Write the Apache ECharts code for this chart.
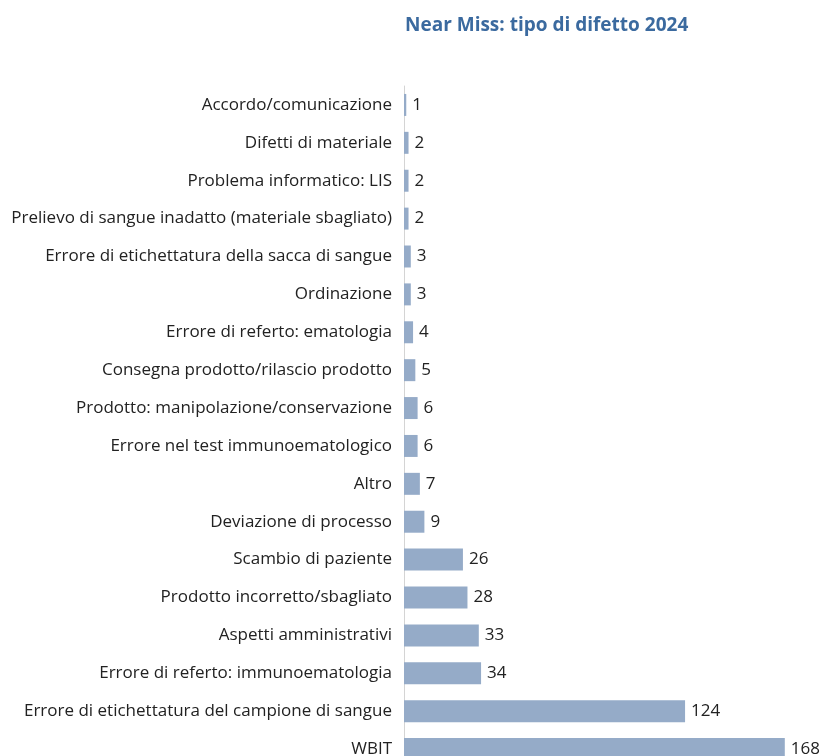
<!DOCTYPE html>
<html>
<head>
<meta charset="utf-8">
<script src="https://cdn.jsdelivr.net/npm/echarts@6/dist/echarts.min.js"></script>
<style>
  html, body { margin: 0; padding: 0; background: #ffffff; overflow: hidden; }
  #chart { width: 825px; height: 780px; }
</style>
</head>
<body>
<div id="chart"></div>
<script>
// Near miss events by defect type, 2024 (listed top to bottom)
const categories = [
  'Accordo/comunicazione',
  'Difetti di materiale',
  'Problema informatico: LIS',
  'Prelievo di sangue inadatto (materiale sbagliato)',
  'Errore di etichettatura della sacca di sangue',
  'Ordinazione',
  'Errore di referto: ematologia',
  'Consegna prodotto/rilascio prodotto',
  'Prodotto: manipolazione/conservazione',
  'Errore nel test immunoematologico',
  'Altro',
  'Deviazione di processo',
  'Scambio di paziente',
  'Prodotto incorretto/sbagliato',
  'Aspetti amministrativi',
  'Errore di referto: immunoematologia',
  'Errore di etichettatura del campione di sangue',
  'WBIT'
];
const counts = [1, 2, 2, 2, 3, 3, 4, 5, 6, 6, 7, 9, 26, 28, 33, 34, 124, 168];
const chartTitle = 'Near Miss: tipo di difetto 2024';

const FONT = '"Open Sans", "Noto Sans", sans-serif';
const chart = echarts.init(document.getElementById('chart'), null, { renderer: 'canvas' });

chart.setOption({
  animation: false,
  backgroundColor: '#ffffff',
  title: {
    text: chartTitle,
    left: 400,
    top: 11,
    textStyle: { color: '#3b6a9f', fontSize: 19, fontWeight: 'bold', fontFamily: FONT }
  },
  grid: { left: 404, top: 86, width: 408, height: 682, containLabel: false },
  xAxis: {
    type: 'value',
    min: 0,
    max: 180,
    show: false
  },
  yAxis: {
    type: 'category',
    data: categories,
    inverse: true,
    axisLine: { show: true, lineStyle: { color: '#d4d4d4', width: 1 } },
    axisTick: { show: false },
    axisLabel: { color: '#222222', fontSize: 17, fontFamily: FONT, margin: 12 },
    splitLine: { show: false }
  },
  series: [{
    type: 'bar',
    data: counts,
    barCategoryGap: '42%',
    itemStyle: { color: '#95abc8' },
    label: {
      show: true,
      position: 'right',
      distance: 6,
      color: '#222222',
      fontSize: 17,
      fontFamily: FONT
    }
  }]
});
</script>
</body>
</html>
